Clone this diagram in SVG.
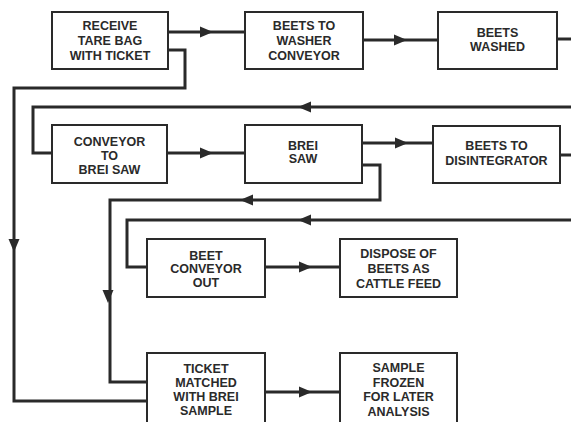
<svg xmlns="http://www.w3.org/2000/svg" width="571" height="422" viewBox="0 0 571 422">
<style>
.box{fill:#fff;stroke:#2a2a2a;stroke-width:2}
.t{font-family:"Liberation Sans",Arial,sans-serif;font-weight:bold;font-size:12.5px;fill:#2a2a2a;text-anchor:middle}
.c{fill:none;stroke:#2a2a2a;stroke-width:3}
.ah{fill:#2a2a2a}
</style>
<defs>
<path id="ah" d="M0,0 L-13,-5.5 L-13,5.5 Z"/>
</defs>
<rect width="571" height="422" fill="#fff"/>
<g id="connectors">
<path class="c" d="M168,32 H245"/>
<path class="c" d="M363,40 H438"/>
<path class="c" d="M557,39 H571"/>
<path class="c" d="M168,50 H185 V88 H14 V401 H147"/>
<path class="c" d="M571,107 H33 V153 H52"/>
<path class="c" d="M167,153 H245"/>
<path class="c" d="M362,143 H433"/>
<path class="c" d="M560,155 H571"/>
<path class="c" d="M362,165 H380 V200 H110 V382 H147"/>
<path class="c" d="M571,220 H127 V267 H147"/>
<path class="c" d="M265,267 H340"/>
<path class="c" d="M265,392 H340"/>
<use href="#ah" class="ah" transform="translate(213,32)"/>
<use href="#ah" class="ah" transform="translate(407,40)"/>
<use href="#ah" class="ah" transform="translate(298,107) rotate(180)"/>
<use href="#ah" class="ah" transform="translate(213,153)"/>
<use href="#ah" class="ah" transform="translate(408,143)"/>
<use href="#ah" class="ah" transform="translate(240,200) rotate(180)"/>
<use href="#ah" class="ah" transform="translate(298,220) rotate(180)"/>
<use href="#ah" class="ah" transform="translate(14,252) rotate(90)"/>
<use href="#ah" class="ah" transform="translate(108,303) rotate(90)"/>
<use href="#ah" class="ah" transform="translate(312,267)"/>
<use href="#ah" class="ah" transform="translate(312,392)"/>
</g>
<g id="receive">
<rect class="box" x="52" y="12" width="116" height="57"/>
<text class="t" x="110" y="29.5">RECEIVE</text>
<text class="t" x="110" y="44.5">TARE BAG</text>
<text class="t" x="110" y="59.5">WITH TICKET</text>
</g>
<g id="washer-conveyor">
<rect class="box" x="245" y="12" width="118" height="57"/>
<text class="t" x="304" y="29.5">BEETS TO</text>
<text class="t" x="304" y="44.5">WASHER</text>
<text class="t" x="304" y="59.5">CONVEYOR</text>
</g>
<g id="washed">
<rect class="box" x="438" y="12" width="119" height="57"/>
<text class="t" x="497.5" y="37">BEETS</text>
<text class="t" x="497.5" y="51">WASHED</text>
</g>
<g id="conveyor-saw">
<rect class="box" x="52" y="125" width="115" height="58"/>
<text class="t" x="109.5" y="145.5">CONVEYOR</text>
<text class="t" x="109.5" y="159.5">TO</text>
<text class="t" x="109.5" y="173.5">BREI SAW</text>
</g>
<g id="brei-saw">
<rect class="box" x="245" y="125" width="117" height="58"/>
<text class="t" x="303" y="149.5">BREI</text>
<text class="t" x="303" y="162.5">SAW</text>
</g>
<g id="disintegrator">
<rect class="box" x="433" y="126" width="127" height="57"/>
<text class="t" x="496.5" y="149.5">BEETS TO</text>
<text class="t" x="496.5" y="164.5">DISINTEGRATOR</text>
</g>
<g id="beet-conveyor-out">
<rect class="box" x="147" y="239" width="118" height="58"/>
<text class="t" x="206" y="259.5">BEET</text>
<text class="t" x="206" y="273">CONVEYOR</text>
<text class="t" x="206" y="286.5">OUT</text>
</g>
<g id="dispose">
<rect class="box" x="340" y="239" width="117" height="58"/>
<text class="t" x="398.5" y="257.5">DISPOSE OF</text>
<text class="t" x="398.5" y="272.5">BEETS AS</text>
<text class="t" x="398.5" y="287.5">CATTLE FEED</text>
</g>
<g id="ticket-matched">
<rect class="box" x="147" y="353" width="118" height="80"/>
<text class="t" x="206" y="372.5">TICKET</text>
<text class="t" x="206" y="386.5">MATCHED</text>
<text class="t" x="206" y="401">WITH BREI</text>
<text class="t" x="206" y="414.5">SAMPLE</text>
</g>
<g id="sample-frozen">
<rect class="box" x="340" y="353" width="117" height="80"/>
<text class="t" x="398.5" y="371.5">SAMPLE</text>
<text class="t" x="398.5" y="386.5">FROZEN</text>
<text class="t" x="398.5" y="400.5">FOR LATER</text>
<text class="t" x="398.5" y="415.5">ANALYSIS</text>
</g>
</svg>
